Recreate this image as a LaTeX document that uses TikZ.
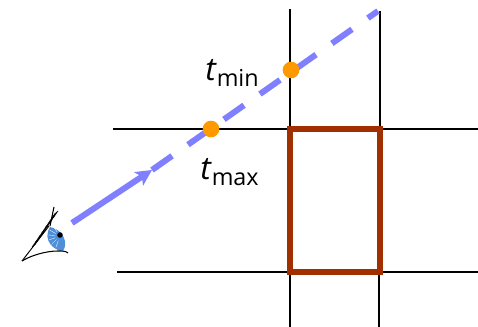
\documentclass[tikz,border=0pt]{standalone}
\usepackage{fontspec}
\setmainfont{Open Sans}
\usetikzlibrary{arrows.meta}
\definecolor{raycol}{HTML}{7F7FFF}
\definecolor{hitcol}{HTML}{FF9900}
\definecolor{boxcol}{HTML}{A03000}
\definecolor{iriscol}{HTML}{4F8FD8}
\tikzset{
  slab/.style={line width=1.4pt, black},
  ray/.style={line width=4.5pt, raycol},
  hit/.style={circle, fill=hitcol, inner sep=0pt, minimum size=12.5pt},
  param/.style={inner sep=0pt, font=\fontsize{17.5}{17.5}\selectfont},
}
\newcommand{\tparam}[1]{\textit{\fontsize{24}{24}\selectfont t}\raisebox{-4.5pt}{#1}}

\begin{document}
\begin{tikzpicture}[x=0.75pt,y=-0.75pt]
    \useasboundingbox (0,0) rectangle (478,327);

    % Slabs

    \draw[slab] (113,129) -- (478,129);
    \draw[slab] (117,272) -- (478,272);
    \draw[slab] (290,9) -- (290,327);
    \draw[slab] (380,11) -- (380,129);
    \draw[slab] (379,272) -- (379,327);

    % Ray

    \coordinate (origin) at (72,223);
    \coordinate (mid) at (152,170);
    \coordinate (far) at (378,11);
    \draw[ray, -{Stealth[length=12pt,width=12pt,inset=3pt]}] (origin) -- (mid);
    \draw[ray, dash pattern=on 18.4pt off 14.6pt] (mid) -- (far);

    % Box

    \draw[line width=3.8pt, boxcol] (290,129) rectangle (380,272);

    % Hits

    \node[hit] (tmin) at (291,70) {};
    \node[hit] (tmax) at (211,129) {};
    \node[param, anchor=base west] (tminlabel) at (205,81) {\tparam{min}};
    \node[param, anchor=base west] (tmaxlabel) at (200,180) {\tparam{max}};

    % Eye

    \fill[iriscol] (50,227) .. controls (62,229) and (69,242) .. (63,251)
      .. controls (54,251) and (42,240) .. (50,227);
    \foreach \a in {110,135,160,185,210,235} {
      \draw[white, line width=0.25pt] (60,236) ++(\a:5) -- ++(\a:7);
    }
    \fill[black] (60,235) circle (2.8);
    \draw[line width=0.8pt] (22,261) .. controls (30,256) and (45,251) .. (58,251)
      .. controls (62,251) and (66,251) .. (68,253);
    \draw[line width=0.7pt] (22,261) -- (49,226);
    \draw[line width=0.8pt] (50,226) -- (54,207);
    \foreach \s in {0,1,...,26} {
      \draw[line width=0.5pt] (32+0.85*\s,247-1.25*\s) -- ++(4,-3.5);
    }
\end{tikzpicture}
\end{document}
